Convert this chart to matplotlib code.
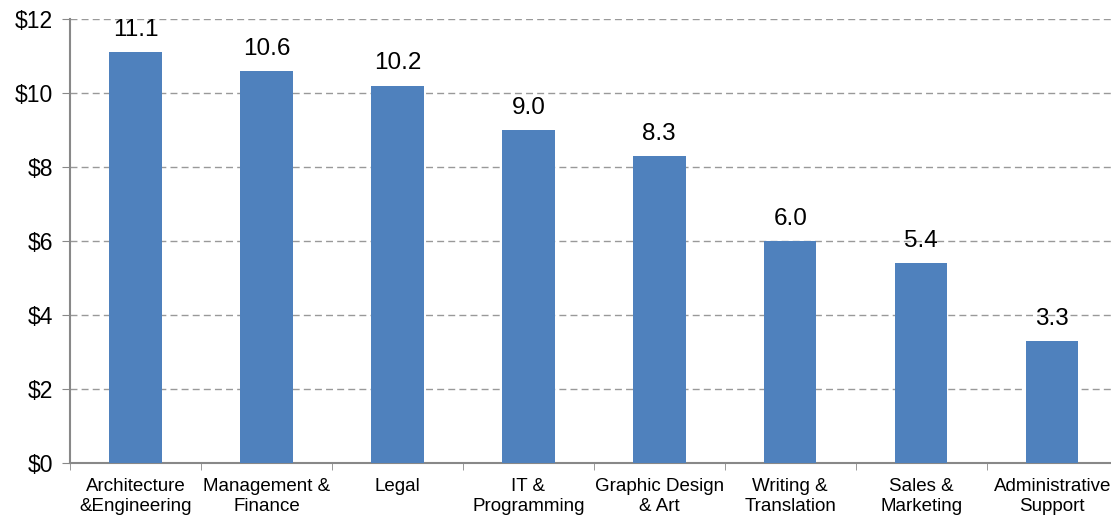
import matplotlib.pyplot as plt
import numpy as np

categories = ["Architecture\n&Engineering", "Management &\nFinance", "Legal",
              "IT &\nProgramming", "Graphic Design\n& Art", "Writing &\nTranslation",
              "Sales &\nMarketing", "Administrative\nSupport"]
values = [11.1, 10.6, 10.2, 9.0, 8.3, 6.0, 5.4, 3.3]
yticks = [0, 2, 4, 6, 8, 10, 12]

plt.rcParams['font.family'] = ['Liberation Sans', 'DejaVu Sans']

fig = plt.figure(figsize=(11.11, 5.17), dpi=100)
ax = fig.add_axes([0.063, 0.1044, 0.943, 0.859])

x = np.arange(len(categories))
ax.bar(x, values, width=0.4, color="#4F81BD", zorder=3)

for xi, v in zip(x, values):
    ax.annotate(f"{v:.1f}", xy=(xi, v), xytext=(0, 8), textcoords="offset points",
                ha="center", va="bottom", fontsize=17.5, color="black", zorder=4)

ax.set_xlim(-0.5, len(categories) - 0.5)
ax.set_ylim(0, 12)
ax.set_yticks(yticks)
ax.set_yticklabels([f"${t}" for t in yticks], fontsize=16.5)
ax.yaxis.grid(True, linestyle=(0, (5, 3)), color="#999999", linewidth=1, zorder=0)

# category labels centred, tick marks at the boundaries
ax.set_xticks(x)
ax.set_xticklabels(categories, fontsize=13.5, linespacing=1.2)
ax.set_xticks(np.arange(len(categories) + 1) - 0.5, minor=True)
ax.tick_params(axis="x", which="major", length=0, pad=11)
ax.tick_params(axis="x", which="minor", length=5, color="#888888", direction="out")
ax.tick_params(axis="y", length=6, color="#888888", direction="out", pad=6)

for side in ["top", "right"]:
    ax.spines[side].set_visible(False)
for side in ["left", "bottom"]:
    ax.spines[side].set_color("#888888")
    ax.spines[side].set_linewidth(1.5)

fig.savefig("out.png", dpi=100)
